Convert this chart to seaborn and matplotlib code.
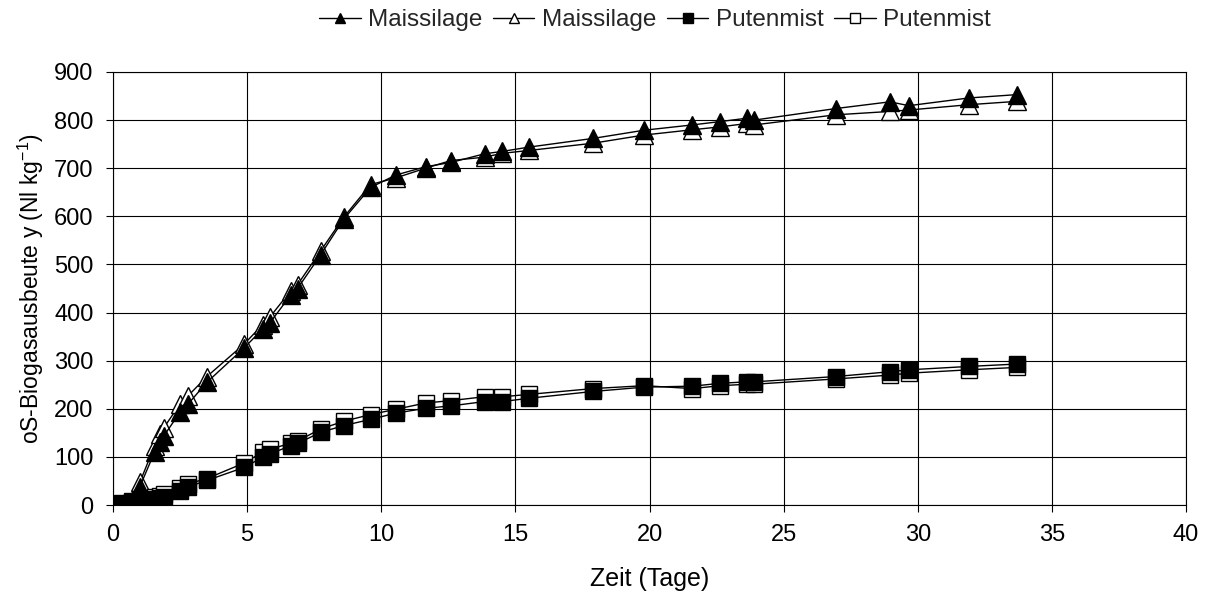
import numpy as np
import pandas as pd
import matplotlib
matplotlib.use("Agg")
import matplotlib.pyplot as plt
import seaborn as sns

# ---- data ----
zeit = [0, 0.35, 0.7, 1.0, 1.55, 1.75, 1.9, 2.5, 2.8, 3.5, 4.88, 5.58, 5.84, 6.62, 6.88,
        7.74, 8.6, 9.6, 10.55, 11.65, 12.6, 13.85, 14.52, 15.52, 17.9, 19.8, 21.6, 22.64,
        23.64, 23.9, 26.94, 28.96, 29.67, 31.9, 33.7]

mais_1 = [0, 2, 5, 38, 110, 130, 144, 193, 210, 255, 326, 366, 378, 436, 450,
          520, 594, 660, 686, 703, 712, 730, 735, 744, 762, 779, 790, 797,
          804, 800, 824, 838, 830, 846, 853]
mais_2 = [0, 3, 8, 47, 123, 148, 161, 210, 227, 267, 334, 375, 390, 445, 458,
          528, 598, 666, 680, 700, 716, 723, 731, 737, 752, 769, 780, 786,
          793, 790, 811, 818, 821, 832, 839]
puten_1 = [0, 3, 6, 9, 13, 14, 16, 30, 38, 51, 78, 99, 106, 123, 128,
           151, 165, 178, 191, 201, 206, 215, 215, 222, 236, 245, 247, 253,
           256, 256, 267, 277, 281, 288, 293]
puten_2 = [0, 4, 8, 12, 16, 18, 22, 36, 44, 55, 87, 110, 116, 128, 133,
           158, 174, 188, 199, 212, 217, 225, 225, 230, 242, 248, 242, 248,
           251, 251, 262, 270, 274, 281, 286]

labels = ["Maissilage", "Maissilage", "Putenmist", "Putenmist"]
x_ticks = [0, 5, 10, 15, 20, 25, 30, 35, 40]
y_ticks = [0, 100, 200, 300, 400, 500, 600, 700, 800, 900]

# ---- styling ----
sns.set_theme(style="white")
plt.rcParams["font.family"] = ["Liberation Sans", "DejaVu Sans"]
plt.rcParams["mathtext.default"] = "regular"

fig = plt.figure(figsize=(12.08, 5.96), dpi=100)
ax = fig.add_axes([113 / 1208, 1 - 505 / 596, (1186 - 113) / 1208, (505 - 72) / 596])

series = [
    (mais_1, labels[0], "^", "black", 4),
    (mais_2, labels[1], "^", "white", 3),
    (puten_1, labels[2], "s", "black", 4),
    (puten_2, labels[3], "s", "white", 3),
]
for vals, lab, mk, fc, z in series:
    df = pd.DataFrame({"Zeit": zeit, "Ausbeute": vals})
    sns.lineplot(data=df, x="Zeit", y="Ausbeute", ax=ax, estimator=None, sort=False,
                 color="black", linewidth=1.0, marker=mk, markersize=12 if mk == "s" else 12.5,
                 markerfacecolor=fc, markeredgecolor="black", markeredgewidth=1.0,
                 label=lab, zorder=z, legend=False)

ax.set_xlim(0, 40)
ax.set_ylim(0, 900)
ax.set_xticks(x_ticks)
ax.set_yticks(y_ticks)
ax.grid(True, color="black", linewidth=0.8, zorder=0)
ax.set_axisbelow(True)
for s in ax.spines.values():
    s.set_color("black")
    s.set_linewidth(0.8)
ax.tick_params(axis="both", direction="out", length=5, width=0.8, color="black",
               labelsize=17, labelcolor="black", bottom=True, left=True, pad=9)
ax.set_xlabel("Zeit (Tage)", fontsize=18, color="black", labelpad=15)
ax.set_ylabel("oS-Biogasausbeute y (Nl kg$^{-1}$)", fontsize=16.5, color="black", labelpad=6)

handles, labs = ax.get_legend_handles_labels()
fig.legend(handles, labs, loc="center", bbox_to_anchor=(655 / 1208, 1 - 20 / 596), ncol=4,
           frameon=False, fontsize=17.5, handlelength=1.7, handletextpad=0.3,
           columnspacing=0.45, markerscale=0.55)

fig.savefig("out.png", dpi=100, facecolor="white")
